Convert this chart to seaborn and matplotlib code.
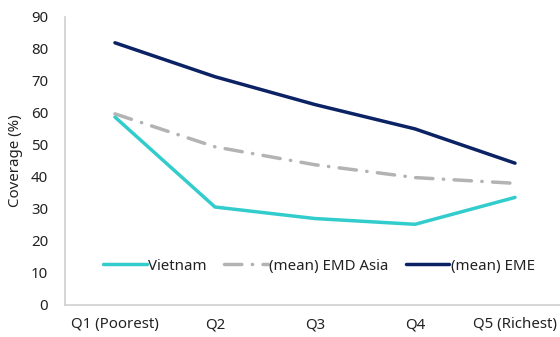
import matplotlib
matplotlib.use("Agg")
import matplotlib.pyplot as plt
import seaborn as sns
import pandas as pd
from matplotlib.ticker import FixedLocator

categories = ["Q1 (Poorest)", "Q2", "Q3", "Q4", "Q5 (Richest)"]
vietnam = [58.7, 30.6, 27.0, 25.2, 33.6]
emd_asia = [59.7, 49.4, 43.8, 39.8, 38.0]
eme = [81.9, 71.3, 62.6, 55.0, 44.3]
series_names = ["Vietnam", "(mean) EMD Asia", "(mean) EME"]

rows = []
for name, vals in zip(series_names, [vietnam, emd_asia, eme]):
    for i, v in enumerate(vals):
        rows.append({"quintile": i, "Coverage": v, "series": name})
df = pd.DataFrame(rows)

sns.set_style("white")
plt.rcParams['font.family'] = ['Noto Sans', 'DejaVu Sans']

fig = plt.figure(figsize=(5.6, 3.37), dpi=100)
ax = fig.add_axes([0.116, 0.095, 0.884, 0.855])

palette = {"Vietnam": "#33CCCC", "(mean) EMD Asia": "#B3B3B3", "(mean) EME": "#0B2265"}
dashes = {"Vietnam": "", "(mean) EMD Asia": (5, 3, 0.1, 3), "(mean) EME": ""}
sns.lineplot(data=df, x="quintile", y="Coverage", hue="series", style="series",
             hue_order=series_names, style_order=series_names,
             palette=palette, dashes=dashes, linewidth=2.5, ax=ax,
             solid_capstyle="round", dash_capstyle="round")

ax.set_xlim(-0.5, 4.45)
ax.set_ylim(0, 90)
ax.set_yticks(range(0, 91, 10))
ax.set_xticks(range(len(categories)))
ax.set_xticklabels(categories)
ax.xaxis.set_minor_locator(FixedLocator([0.5, 1.5, 2.5, 3.5]))
ax.tick_params(axis='x', which='major', length=0, pad=9, labelsize=10.8, labelcolor='#222222')
ax.tick_params(axis='x', which='minor', length=5, direction='in', color='#D0D0D0', width=1)
ax.tick_params(axis='y', which='major', length=5, direction='in', color='#D0D0D0', width=1,
               labelsize=10.8, labelcolor='#222222', pad=12)
for s in ['top', 'right']:
    ax.spines[s].set_visible(False)
for s in ['left', 'bottom']:
    ax.spines[s].set_color('#D0D0D0')
    ax.spines[s].set_linewidth(1.2)
ax.set_xlabel("")
ax.set_ylabel("Coverage (%)", fontsize=10.8, color='#222222', labelpad=6)

handles, labels = ax.get_legend_handles_labels()
leg = ax.legend(handles, labels, loc='center', bbox_to_anchor=(0.513, 0.135), ncol=3,
                frameon=False, fontsize=10.8, handlelength=2.9, handletextpad=0.1,
                columnspacing=1.15)
for t in leg.get_texts():
    t.set_color('#222222')

fig.savefig("out.png", dpi=100)
